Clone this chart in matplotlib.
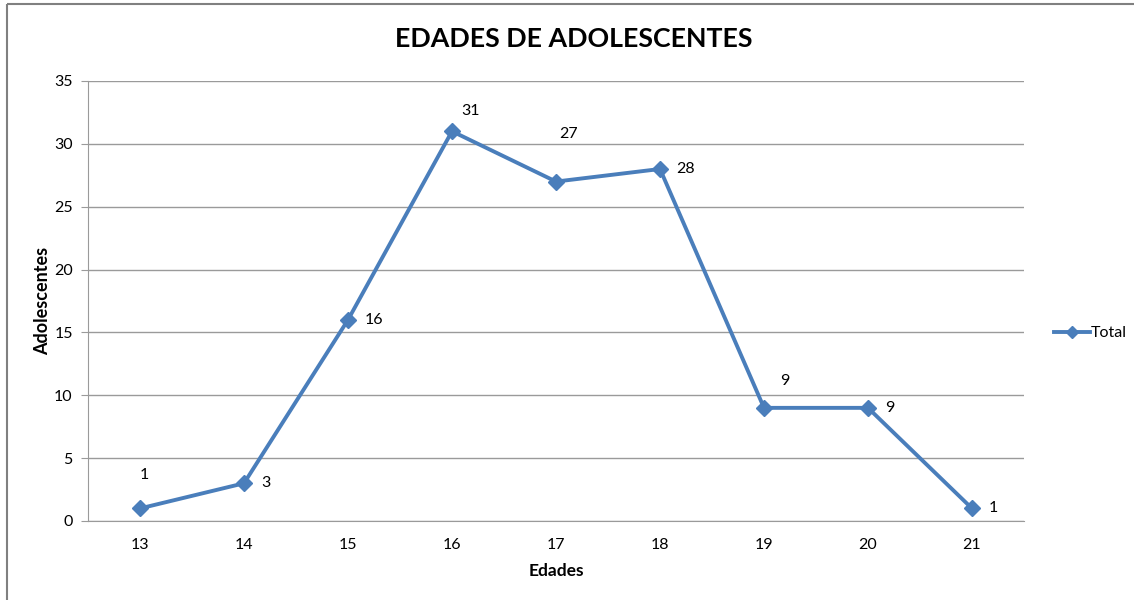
import matplotlib.pyplot as plt
from matplotlib.lines import Line2D

edades = ['13', '14', '15', '16', '17', '18', '19', '20', '21']
adolescentes = [1, 3, 16, 31, 27, 28, 9, 9, 1]

# desplazamiento de cada etiqueta (pixeles) como en Excel
offsets = [(4, 33), (22, 0), (26, 0), (19, 20), (13, 48), (26, 0), (21, 27), (22, 0), (21, 0)]

azul = '#4a7ebb'
gris = '#9a9a9a'

plt.rcParams['font.family'] = ['Lato', 'DejaVu Sans']

fig = plt.figure(figsize=(11.34, 6), dpi=100)
ax = fig.add_axes([88 / 1134, 1 - 521 / 600, (1024 - 88) / 1134, (521 - 81) / 600])

x = list(range(len(edades)))
ax.plot(x, adolescentes, color=azul, linewidth=2.8, marker='D', markersize=8,
        markeredgecolor=azul, label='Total', clip_on=False, zorder=3)

for xi, yi, (dx, dy) in zip(x, adolescentes, offsets):
    ax.annotate(str(yi), (xi, yi), xytext=(dx, dy), textcoords='offset pixels',
                ha='center', va='center', fontsize=11.5, color='black')

ax.set_xlim(-0.5, len(edades) - 0.5)
ax.set_ylim(0, 35)
ax.set_yticks(range(0, 36, 5))
ax.set_xticks(x)
ax.set_xticklabels(edades)
ax.tick_params(axis='x', length=0, pad=12, labelsize=11.5)
ax.tick_params(axis='y', length=5, color=gris, pad=6, labelsize=11.5)
ax.yaxis.grid(True, color=gris, linewidth=1)
ax.set_axisbelow(True)

for s in ['top', 'right']:
    ax.spines[s].set_visible(False)
ax.spines['left'].set_color(gris)
ax.spines['bottom'].set_color(gris)

ax.set_xlabel('Edades', fontweight='bold', fontsize=12.5, labelpad=8)
ax.set_ylabel('Adolescentes', fontweight='bold', fontsize=13, labelpad=2)

fig.suptitle('EDADES DE ADOLESCENTES', fontweight='bold', fontsize=19.3, x=574 / 1134, y=0.955)

handle = Line2D([], [], color=azul, linewidth=2.8, marker='D', markersize=6)
fig.legend([handle], ['Total'], loc='center left', bbox_to_anchor=(1040 / 1134, 1 - 333 / 600),
           frameon=False, fontsize=11.5, handlelength=2.2, handletextpad=0.1)

# marco del grafico (borde superior e izquierdo en pixeles de la figura)
fig.add_artist(Line2D([6.5, 6.5], [0, 596], color='#808080', linewidth=1.5,
                      transform=None, solid_capstyle='butt'))
fig.add_artist(Line2D([6.5, 1134], [596, 596], color='#808080', linewidth=1.5,
                      transform=None, solid_capstyle='butt'))

fig.savefig('out.png', dpi=100)
